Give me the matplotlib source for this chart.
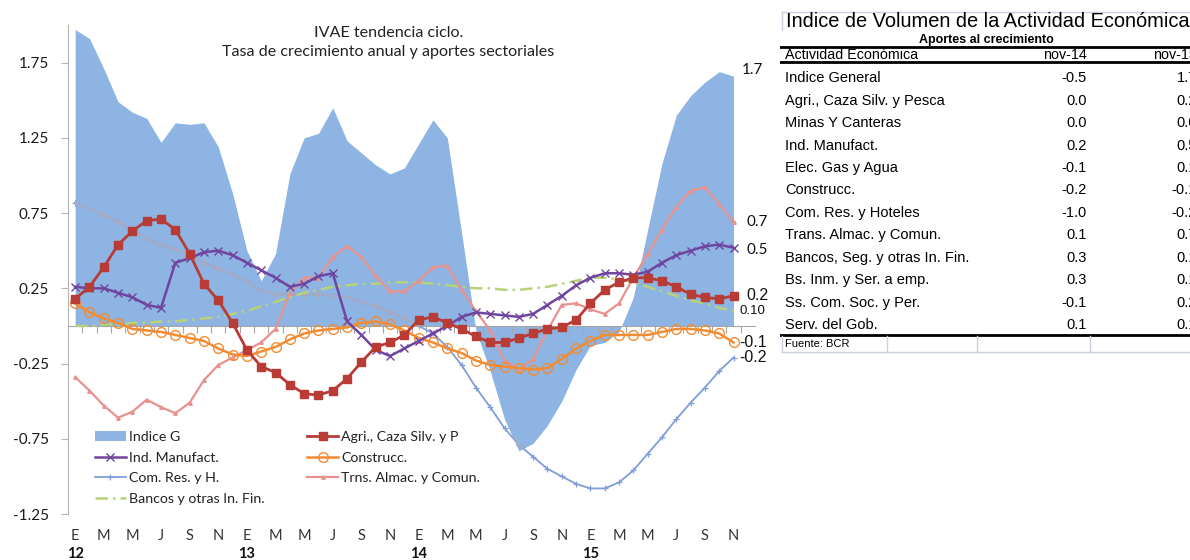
import matplotlib
matplotlib.use('Agg')
import matplotlib.pyplot as plt
import numpy as np

# Datos (ene-12 a nov-15, mensual)
meses = ['E', 'M', 'M', 'J', 'S', 'N'] * 4
anios = ['12', '13', '14', '15']

indice_g = [1.97, 1.91, 1.71, 1.49, 1.42, 1.38, 1.22, 1.35, 1.34, 1.35, 1.19, 0.88,
            0.50, 0.30, 0.48, 1.01, 1.25, 1.28, 1.45, 1.23, 1.15, 1.07, 1.01, 1.05,
            1.21, 1.37, 1.25, 0.62, -0.03, -0.30, -0.62, -0.83, -0.78, -0.66, -0.50, -0.29,
            -0.13, -0.11, -0.04, 0.19, 0.64, 1.08, 1.40, 1.53, 1.62, 1.69, 1.66]
agri = [0.18, 0.26, 0.39, 0.54, 0.63, 0.70, 0.71, 0.64, 0.48, 0.28, 0.17, 0.02,
        -0.16, -0.27, -0.31, -0.39, -0.45, -0.46, -0.43, -0.35, -0.24, -0.14, -0.11, -0.06,
        0.04, 0.06, 0.02, -0.02, -0.07, -0.11, -0.11, -0.08, -0.05, -0.02, -0.01, 0.04,
        0.15, 0.24, 0.29, 0.32, 0.32, 0.30, 0.26, 0.21, 0.19, 0.18, 0.20]
ind_manuf = [0.26, 0.25, 0.25, 0.22, 0.19, 0.14, 0.12, 0.42, 0.45, 0.49, 0.50, 0.47,
             0.42, 0.37, 0.32, 0.26, 0.28, 0.33, 0.35, 0.03, -0.06, -0.16, -0.20, -0.15,
             -0.10, -0.05, 0.00, 0.06, 0.09, 0.08, 0.07, 0.06, 0.08, 0.14, 0.20, 0.27,
             0.32, 0.35, 0.35, 0.34, 0.36, 0.42, 0.47, 0.50, 0.53, 0.54, 0.52]
construcc = [0.15, 0.09, 0.05, 0.02, -0.02, -0.03, -0.04, -0.06, -0.08, -0.10, -0.15, -0.19,
             -0.20, -0.17, -0.14, -0.09, -0.05, -0.03, -0.02, -0.01, 0.02, 0.03, 0.01, -0.03,
             -0.08, -0.11, -0.15, -0.18, -0.23, -0.26, -0.27, -0.28, -0.29, -0.28, -0.22, -0.15,
             -0.10, -0.06, -0.06, -0.06, -0.06, -0.04, -0.02, -0.02, -0.03, -0.05, -0.11]
com_res = [0.82, 0.78, 0.74, 0.69, 0.64, 0.58, 0.54, 0.51, 0.47, 0.42, 0.38, 0.34,
           0.29, 0.23, 0.21, 0.21, 0.21, 0.21, 0.20, 0.19, 0.16, 0.13, 0.09, 0.05,
           0.00, -0.05, -0.14, -0.26, -0.41, -0.54, -0.68, -0.79, -0.87, -0.95, -1.00, -1.05,
           -1.08, -1.08, -1.04, -0.96, -0.85, -0.74, -0.62, -0.51, -0.41, -0.30, -0.21]
trns = [-0.34, -0.43, -0.53, -0.61, -0.57, -0.49, -0.54, -0.58, -0.51, -0.36, -0.26, -0.21,
        -0.16, -0.11, -0.02, 0.22, 0.32, 0.32, 0.46, 0.53, 0.46, 0.33, 0.23, 0.23,
        0.30, 0.39, 0.40, 0.24, 0.10, -0.03, -0.23, -0.29, -0.22, -0.03, 0.14, 0.15,
        0.11, 0.08, 0.15, 0.32, 0.48, 0.64, 0.79, 0.90, 0.92, 0.81, 0.69]
bancos = [0.00, 0.00, 0.01, 0.01, 0.02, 0.02, 0.03, 0.03, 0.04, 0.05, 0.06, 0.08,
          0.10, 0.13, 0.16, 0.19, 0.22, 0.24, 0.26, 0.27, 0.28, 0.28, 0.29, 0.29,
          0.29, 0.28, 0.27, 0.26, 0.25, 0.25, 0.24, 0.24, 0.25, 0.26, 0.28, 0.30,
          0.32, 0.32, 0.31, 0.29, 0.26, 0.23, 0.20, 0.17, 0.15, 0.12, 0.10]

etiquetas_fin = ['1.7', '0.7', '0.5', '0.2', '0.10', '-0.1', '-0.2']

# Tabla de aportes
actividades = ['Indice General', 'Agri., Caza Silv. y Pesca', 'Minas Y Canteras',
               'Ind. Manufact.', 'Elec. Gas y Agua', 'Construcc.', 'Com. Res. y Hoteles',
               'Trans. Almac. y Comun.', 'Bancos, Seg. y otras In. Fin.',
               'Bs. Inm. y Ser. a emp.', 'Ss. Com. Soc. y Per.', 'Serv. del Gob.']
nov14 = ['-0.5', '0.0', '0.0', '0.2', '-0.1', '-0.2', '-1.0', '0.1', '0.3', '0.3', '-0.1', '0.1']
nov15 = ['1.7', '0.2', '0.0', '0.5', '0.1', '-0.1', '-0.2', '0.7', '0.1', '0.1', '0.2', '0.1']

x = np.arange(len(indice_g))
gris = '#a6a6a6'

fig = plt.figure(figsize=(11.9, 5.6), dpi=100)
ax = fig.add_axes([68 / 1190, 1 - 514 / 560, 687 / 1190, 489 / 560])

area = ax.fill_between(x, 0, indice_g, color='#8db4e2', lw=0, zorder=1, label='Indice G')

com_line, = ax.plot(x, com_res, color='#7f9ed8', lw=1.3, marker='+', ms=5, mew=0.9,
                    zorder=2, label='Com. Res. y H.')
# dentro del área la línea se ve grisácea
com_in, = ax.plot(x, com_res, color='#a9abc2', lw=1.3, marker='+', ms=5, mew=0.9, zorder=2.1)
com_in.set_clip_path(area.get_paths()[0], ax.transData)

banc_line, = ax.plot(x, bancos, color='#b8d27a', lw=1.8, ls=(0, (5, 2, 1, 2)), zorder=3,
                     label='Bancos y otras In. Fin.')
trns_line, = ax.plot(x, trns, color='#e8928e', lw=1.6, marker='^', ms=2.5, zorder=4,
                     label='Trns. Almac. y Comun.')
cons_line, = ax.plot(x, construcc, color='#f28c33', lw=1.8, marker='o', ms=7, mfc='none',
                     mew=1.0, zorder=5, label='Construcc.')
ind_line, = ax.plot(x, ind_manuf, color='#7045a0', lw=1.8, marker='x', ms=6, mew=1.0,
                    zorder=6, label='Ind. Manufact.')
agri_line, = ax.plot(x, agri, color='#b83b36', lw=2.0, marker='s', ms=6, zorder=7,
                     label='Agri., Caza Silv. y P')

ax.set_xlim(-0.5, 47.5)
ax.set_ylim(-1.25, 2.0)

# ejes estilo Excel
for s in ['top', 'right']:
    ax.spines[s].set_visible(False)
ax.spines['left'].set_color('#b4b4b4')
ax.spines['bottom'].set_position(('data', 0))
ax.spines['bottom'].set_color(gris)
ax.set_xticks(np.arange(0.5, 47, 1))
ax.tick_params(axis='x', length=5, color=gris, labelbottom=False)
ax.set_yticks([1.75, 1.25, 0.75, 0.25, -0.25, -0.75, -1.25])
ax.set_yticklabels(['1.75', '1.25', '0.75', '0.25', '-0.25', '-0.75', '-1.25'])
ax.tick_params(axis='y', length=5, color='#b4b4b4', labelsize=11, labelcolor='#1a1a1a', pad=9)
for t in ax.get_yticklabels():
    t.set_family('Lato')

sec = ax.secondary_xaxis('bottom')
sec.set_xticks(np.arange(0, 47, 2), meses)
sec.tick_params(length=0, pad=11, labelsize=10.5, labelcolor='#333333')
sec.spines['bottom'].set_visible(False)
for t in sec.get_xticklabels():
    t.set_family('Lato')

sec2 = ax.secondary_xaxis('bottom')
sec2.set_xticks(np.arange(0, 47, 12), anios)
sec2.tick_params(length=0, pad=24, labelsize=10.5, labelcolor='#111111')
sec2.spines['bottom'].set_visible(False)
for t in sec2.get_xticklabels():
    t.set_family('Lato')
    t.set_weight('bold')

ax.text(0.466, 0.998, 'IVAE tendencia ciclo.\nTasa de crecimiento anual y aportes sectoriales',
        transform=ax.transAxes, ha='center', va='top', fontsize=11.6, family='Lato',
        color='#222222', linespacing=1.45)

# etiquetas al final de las series
finales = [indice_g, trns, ind_manuf, agri, bancos, construcc, com_res]
desplaz = [(8, 6), (13, 0), (13, -2), (13, 0), (6, 0), (6, 0), (6, 0)]
familias = ['Lato', 'Lato', 'Lato', 'Liberation Sans', 'Liberation Sans',
            'Liberation Sans', 'Liberation Sans']
tamanos = [11, 11, 11, 11.5, 9.5, 11.5, 11.5]
for serie, txt, d, fam, sz in zip(finales, etiquetas_fin, desplaz, familias, tamanos):
    ax.annotate(txt, xy=(x[-1], serie[-1]), xytext=d, textcoords='offset pixels',
                ha='left', va='center', fontsize=sz, family=fam, color='#111111')

handles = [area, ind_line, com_line, banc_line, agri_line, cons_line, trns_line]
leg = ax.legend(handles=handles, labels=[h.get_label() for h in handles],
                ncol=2, loc='upper left', bbox_to_anchor=(0.039, 0.170), frameon=False,
                borderpad=0, borderaxespad=0, handlelength=2.2, handletextpad=0.2,
                columnspacing=3.0, labelspacing=0.62,
                prop={'family': 'Lato', 'size': 10.2})
for t in leg.get_texts():
    t.set_color('#222222')

# tabla a la derecha
tax = fig.add_axes([780 / 1190, 0, 410 / 1190, 1])
tax.set_xlim(780, 1190)
tax.set_ylim(560, 0)
tax.axis('off')
borde = '#c9d1dd'
fuente = 'Liberation Sans'
tax.plot([781.5, 1190], [11.5, 11.5], color=borde, lw=1)
tax.plot([781.5, 781.5], [11.5, 30], color=borde, lw=1)
tax.text(786, 21.5, 'Indice de Volumen de la Actividad Económica', fontsize=14.4,
         family=fuente, va='center', ha='left')
tax.text(986, 39.5, 'Aportes al crecimiento', fontsize=9, weight='bold',
         family=fuente, va='center', ha='center')
tax.plot([780, 1190], [47, 47], color='black', lw=2)
tax.text(785, 55, 'Actividad Económica', fontsize=10.3, family=fuente, va='center')
tax.text(1087, 55, 'nov-14', fontsize=10.3, family=fuente, va='center', ha='right')
tax.text(1197, 55, 'nov-15', fontsize=10.3, family=fuente, va='center', ha='right')
tax.plot([780, 1190], [61.5, 61.5], color='black', lw=2)
for k, (nom, v14, v15) in enumerate(zip(actividades, nov14, nov15)):
    yy = 78.3 + 22.43 * k
    tax.text(785, yy, nom, fontsize=10.5, family=fuente, va='center')
    tax.text(1087, yy, v14, fontsize=10.5, family=fuente, va='center', ha='right')
    tax.text(1197, yy, v15, fontsize=10.5, family=fuente, va='center', ha='right')
tax.plot([780, 1190], [335, 335], color='black', lw=2)
tax.plot([781.5, 1190], [351.5, 351.5], color=borde, lw=1)
for xv in [781.5, 886.5, 976.5, 1090]:
    tax.plot([xv, xv], [336, 351.5], color=borde, lw=1)
tax.text(785, 344, 'Fuente: BCR', fontsize=8, family=fuente, va='center')

fig.savefig('out.png', dpi=100)
